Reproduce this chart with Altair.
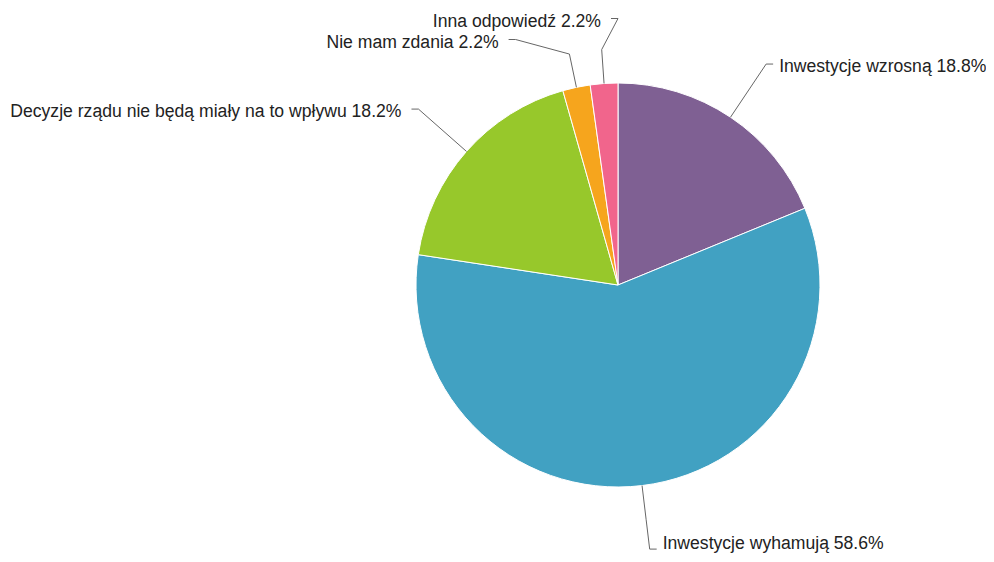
import math
import altair as alt
import pandas as pd

# ---- data ----
categories = [
    "Inwestycje wzrosną",
    "Inwestycje wyhamują",
    "Decyzje rządu nie będą miały na to wpływu",
    "Nie mam zdania",
    "Inna odpowiedź",
]
values = [18.8, 58.6, 18.2, 2.2, 2.2]
colors = ["#7f6093", "#41a1c2", "#97c82b", "#f6a51d", "#f1658c"]

# ---- layout (pixels, plot coordinates) ----
W, H = 978, 546
CX, CY, R = 610, 277, 202
R_BREAK_PX = 236
R_LABEL_PX = 266
BOX = 21            # label slot height used to separate crowded labels
Y_LO, Y_HI = 0, H + 8
TAIL_PX = 7
TEXT_PAD_RIGHT = 6
TEXT_PAD_LEFT = 10
TEXT_DROP_PX = 3
TEXT_Y_MAX = H - 10
FONT_SIZE = 17.6

total = sum(values)
pie_rows, info = [], []
cum = 0.0
for i, (c, v) in enumerate(zip(categories, values)):
    a0 = cum / total * 2 * math.pi
    cum += v
    a1 = cum / total * 2 * math.pi
    mid = (a0 + a1) / 2
    side = 1 if math.sin(mid) >= 0 else -1
    pie_rows.append({"category": c, "value": v, "idx": i})
    info.append({
        "category": c, "value": v, "mid": mid, "side": side,
        "target": CY - R_LABEL_PX * math.cos(mid),   # pixel y, downwards
    })


def distribute(items):
    items = sorted(items, key=lambda d: d["target"])
    groups = [[d] for d in items]

    def place(g):
        n = len(g)
        top = sum(d["target"] for d in g) / n - n * BOX / 2
        return min(max(top, Y_LO), Y_HI - n * BOX)

    merged = True
    while merged:
        merged = False
        tops = [place(g) for g in groups]
        for k in range(len(groups) - 1):
            if tops[k] + len(groups[k]) * BOX > tops[k + 1]:
                groups[k] = groups[k] + groups.pop(k + 1)
                merged = True
                break
    for g in groups:
        top = place(g)
        for j, d in enumerate(g):
            d["y"] = top + (j + 0.5) * BOX


for s in (1, -1):
    distribute([d for d in info if d["side"] == s])

line_rows, text_rows = [], []
for d in info:
    m, s = d["mid"], d["side"]
    dy = (d["y"] - CY) / R_LABEL_PX
    dy = max(min(dy, 1), -1)
    xe = CX + s * math.cos(math.asin(dy)) * R_LABEL_PX
    pts = [
        (CX + R * math.sin(m), CY - R * math.cos(m)),
        (CX + R_BREAK_PX * math.sin(m), CY - R_BREAK_PX * math.cos(m)),
        (xe, d["y"]),
        (xe + s * TAIL_PX, d["y"]),
    ]
    for k, (px, py) in enumerate(pts):
        line_rows.append({"category": d["category"], "pt": k, "x": px, "y": py})
    pad = TEXT_PAD_RIGHT if s > 0 else TEXT_PAD_LEFT
    text_rows.append({
        "label": f"{d['category']} {d['value']:.1f}%",
        "x": xe + s * (TAIL_PX + pad),
        "y": min(d["y"] + TEXT_DROP_PX, TEXT_Y_MAX),
        "side": "right" if s > 0 else "left",
    })

pie_df = pd.DataFrame(pie_rows)
line_df = pd.DataFrame(line_rows)
text_df = pd.DataFrame(text_rows)

xs = alt.Scale(domain=[0, W], range=[0, W], nice=False, zero=False)
ys = alt.Scale(domain=[0, H], range=[0, H], nice=False, zero=False)

pie = alt.Chart(pie_df).mark_arc(radius=R, stroke="white", strokeWidth=1).encode(
    theta=alt.Theta("value:Q", stack=True),
    color=alt.Color("category:N", scale=alt.Scale(domain=categories, range=colors), legend=None),
    order=alt.Order("idx:Q"),
    x=alt.value(CX),
    y=alt.value(CY),
)

lines = alt.Chart(line_df).mark_line(color="#666666", strokeWidth=1).encode(
    x=alt.X("x:Q", scale=xs, axis=None),
    y=alt.Y("y:Q", scale=ys, axis=None),
    detail="category:N",
    order="pt:Q",
)

font = dict(font="Liberation Sans", fontSize=FONT_SIZE, color="#222222", baseline="middle")
text_r = alt.Chart(text_df).transform_filter(alt.datum.side == "right").mark_text(align="left", **font).encode(
    x=alt.X("x:Q", scale=xs, axis=None),
    y=alt.Y("y:Q", scale=ys, axis=None),
    text="label:N",
)
text_l = alt.Chart(text_df).transform_filter(alt.datum.side == "left").mark_text(align="right", **font).encode(
    x=alt.X("x:Q", scale=xs, axis=None),
    y=alt.Y("y:Q", scale=ys, axis=None),
    text="label:N",
)

chart = alt.layer(pie, lines, text_r, text_l).properties(
    width=W, height=H, autosize="none", padding=0,
).configure_view(stroke=None)

chart.save("out.html", embed_options={"renderer": "svg", "actions": False})
